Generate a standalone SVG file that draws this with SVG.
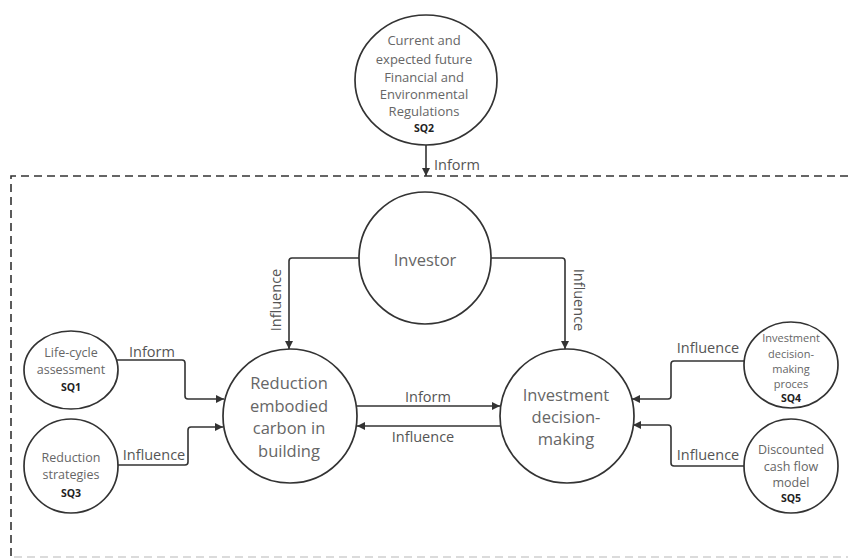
<svg xmlns="http://www.w3.org/2000/svg" width="848" height="558" viewBox="0 0 848 558">
  <style>
    .node { fill: #ffffff; stroke: #333333; stroke-width: 1.7; }
    .txt { font-family: "Open Sans", "Liberation Sans", sans-serif; fill: #666666; text-anchor: middle; }
    .big { font-size: 16.5px; }
    .small { font-size: 12.5px; }
    .tiny { font-size: 11px; }
    .sq { font-family: "Open Sans", "Liberation Sans", sans-serif; font-size: 10.5px; font-weight: bold; fill: #222222; text-anchor: middle; }
    .lbl { font-family: "Open Sans", "Liberation Sans", sans-serif; font-size: 14.5px; fill: #555555; }
    .conn { fill: none; stroke: #333333; stroke-width: 1.6; marker-end: url(#arrow); }
    .scope { fill: none; stroke: #333333; stroke-width: 1.6; stroke-dasharray: 8 5; }
    .scope-base { fill: none; stroke: #b8b8b8; stroke-width: 1.2; stroke-dasharray: 8 5; }
  </style>
  <defs>
    <marker id="arrow" viewBox="0 0 10 10" refX="10" refY="5" markerWidth="9" markerHeight="8" markerUnits="userSpaceOnUse" orient="auto">
      <path d="M0,0 L10,5 L0,10 z" fill="#333333"/>
    </marker>
  </defs>

  <rect width="848" height="558" fill="#ffffff"/>

  <!-- scope boundary -->
  <path class="scope" d="M11,556 L11,176 L860,176"/>
  <path class="scope-base" d="M14,557 L860,557"/>

  <!-- connectors -->
  <g id="connectors">
    <path class="conn" d="M426,145 L426,176"/>
    <path class="conn" d="M359,258 L292,258 Q289,258 289,261 L289,349"/>
    <path class="conn" d="M491,258 L562,258 Q565,258 565,261 L565,349"/>
    <path class="conn" d="M117,360 L182,360 Q185,360 185,363 L185,396 Q185,399 188,399 L224,399"/>
    <path class="conn" d="M117,465 L185,465 Q188,465 188,462 L188,430 Q188,427 191,427 L223,427"/>
    <path class="conn" d="M357,406 L500,406"/>
    <path class="conn" d="M500,426 L357,426"/>
    <path class="conn" d="M744,361 L674,361 Q671,361 671,364 L671,396 Q671,399 668,399 L632,399"/>
    <path class="conn" d="M744,466 L674,466 Q671,466 671,463 L671,428 Q671,425 668,425 L633,425"/>

    <text class="lbl" x="434" y="170">Inform</text>
    <text class="lbl" text-anchor="middle" transform="translate(281,300) rotate(-90)">Influence</text>
    <text class="lbl" text-anchor="middle" transform="translate(574,300) rotate(90)">Influence</text>
    <text class="lbl" x="152" y="357" text-anchor="middle">Inform</text>
    <text class="lbl" x="154" y="460" text-anchor="middle">Influence</text>
    <text class="lbl" x="428" y="402" text-anchor="middle">Inform</text>
    <text class="lbl" x="423" y="442" text-anchor="middle">Influence</text>
    <text class="lbl" x="708" y="353" text-anchor="middle">Influence</text>
    <text class="lbl" x="708" y="460" text-anchor="middle">Influence</text>
  </g>

  <!-- regulations -->
  <g id="regulations">
    <ellipse class="node" cx="426" cy="80" rx="71" ry="65"/>
    <text class="txt" style="font-size:13px" x="424" y="45">Current and</text>
    <text class="txt" style="font-size:13px" x="424" y="64">expected future</text>
    <text class="txt" style="font-size:13px" x="424" y="81.5">Financial and</text>
    <text class="txt" style="font-size:13px" x="424" y="98.5">Environmental</text>
    <text class="txt" style="font-size:13px" x="424" y="115.5">Regulations</text>
    <text class="sq" x="424" y="132">SQ2</text>
  </g>

  <!-- investor -->
  <g id="investor">
    <circle class="node" cx="425" cy="258" r="66"/>
    <text class="txt big" x="425" y="266">Investor</text>
  </g>

  <!-- reduction embodied carbon -->
  <g id="reduction">
    <circle class="node" cx="290" cy="416" r="67"/>
    <text class="txt big" x="289" y="389">Reduction</text>
    <text class="txt big" x="289" y="411.5">embodied</text>
    <text class="txt big" x="289" y="434">carbon in</text>
    <text class="txt big" x="289" y="456.5">building</text>
  </g>

  <!-- investment decision-making -->
  <g id="investment">
    <circle class="node" cx="567" cy="416" r="67"/>
    <text class="txt big" x="566" y="401">Investment</text>
    <text class="txt big" x="566" y="423">decision-</text>
    <text class="txt big" x="566" y="445">making</text>
  </g>

  <!-- life-cycle assessment -->
  <g id="lca">
    <ellipse class="node" cx="71" cy="370" rx="47" ry="39"/>
    <text class="txt small" x="71" y="357">Life-cycle</text>
    <text class="txt small" x="71" y="374">assessment</text>
    <text class="sq" x="71" y="391">SQ1</text>
  </g>

  <!-- reduction strategies -->
  <g id="strategies">
    <circle class="node" cx="71" cy="466" r="47"/>
    <text class="txt small" x="71" y="462">Reduction</text>
    <text class="txt small" x="71" y="478.5">strategies</text>
    <text class="sq" x="71" y="497">SQ3</text>
  </g>

  <!-- investment decision-making process -->
  <g id="process">
    <ellipse class="node" cx="791" cy="365" rx="47" ry="43"/>
    <text class="txt tiny" x="791" y="342">Investment</text>
    <text class="txt tiny" x="791" y="358">decision-</text>
    <text class="txt tiny" x="791" y="373">making</text>
    <text class="txt tiny" x="791" y="387.5">proces</text>
    <text class="sq" x="791" y="402">SQ4</text>
  </g>

  <!-- discounted cash flow model -->
  <g id="dcf">
    <circle class="node" cx="791" cy="466" r="47"/>
    <text class="txt small" x="791" y="454">Discounted</text>
    <text class="txt small" x="791" y="471">cash flow</text>
    <text class="txt small" x="791" y="487">model</text>
    <text class="sq" x="791" y="502">SQ5</text>
  </g>
</svg>
